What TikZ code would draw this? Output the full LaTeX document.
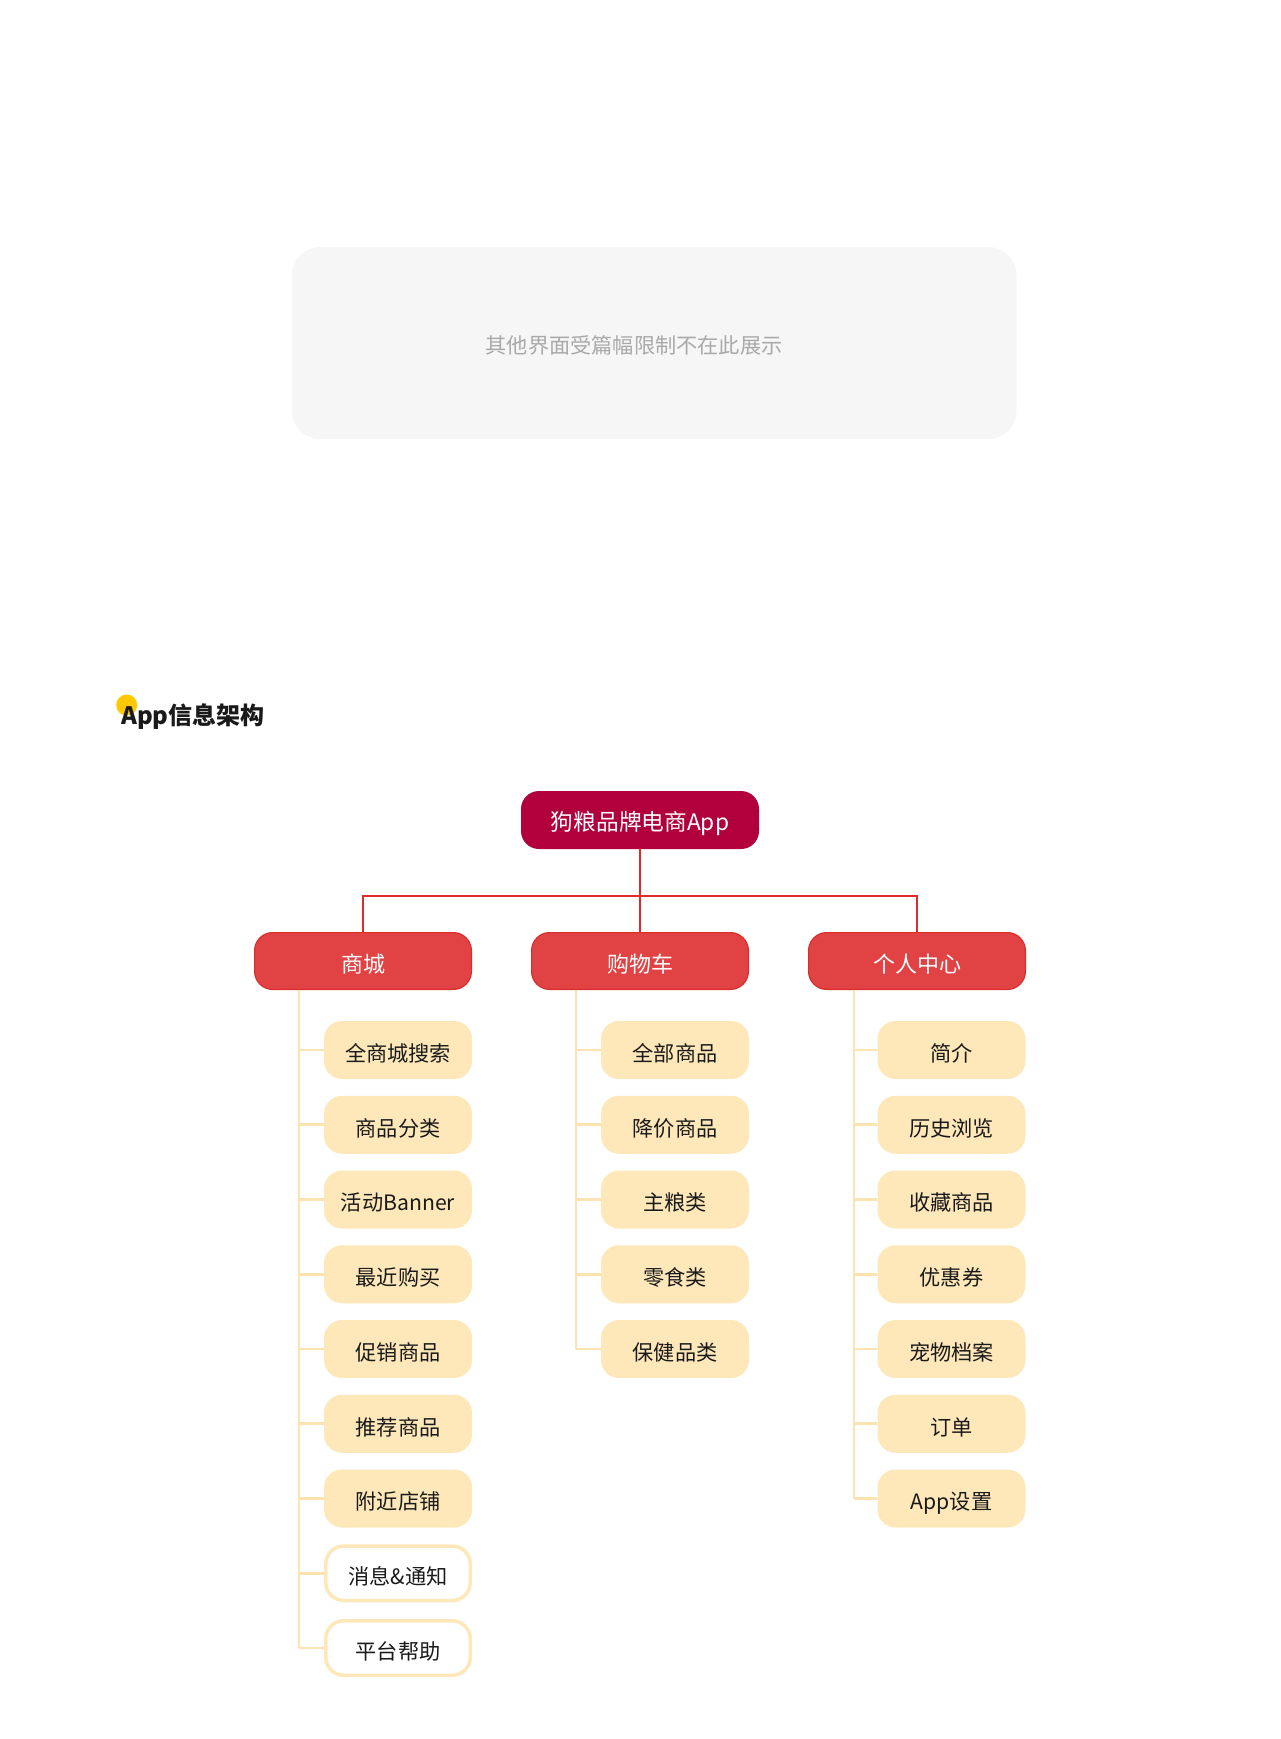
\documentclass[tikz,border=0pt]{standalone}
\usepackage{fontspec}
\setmainfont{Noto Sans CJK SC}
\definecolor{rootc}{HTML}{B2003D}
\definecolor{catc}{HTML}{E14244}
\definecolor{catb}{HTML}{DC2D2D}
\definecolor{redl}{HTML}{E02B2B}
\definecolor{itemc}{HTML}{FEE8B9}
\definecolor{trunkc}{HTML}{FDE3B0}
\definecolor{grayc}{HTML}{F6F6F6}
\definecolor{graytxt}{HTML}{A9A9A9}
\definecolor{txtc}{HTML}{1A1A1A}
\definecolor{dotc}{HTML}{FFC800}
\tikzset{
  rootbox/.style={fill=rootc, rounded corners=18pt, minimum width=238pt, minimum height=58pt, inner sep=0pt, text height=20.5pt, text depth=0pt, text=white, font=\fontsize{22.7}{26}\selectfont},
  catbox/.style={fill=catc, draw=catb, line width=1.2pt, rounded corners=18pt, minimum width=216.8pt, minimum height=56.8pt, inner sep=0pt, text height=23.5pt, text depth=0pt, text=white, font=\fontsize{22}{26}\selectfont},
  itembox/.style={fill=itemc, rounded corners=18pt, minimum width=148pt, minimum height=58pt, inner sep=0pt, text height=22.9pt, text depth=0pt, text=txtc, font=\fontsize{21.2}{24}\selectfont},
  itemwbox/.style={itembox, fill=white, draw=itemc, line width=3.5pt, minimum width=144.5pt, minimum height=54.5pt},
  redline/.style={draw=redl, line width=2.6pt},
  trunkline/.style={draw=trunkc, line width=2.6pt},
  graybox/.style={fill=grayc, rounded corners=28pt, minimum width=724.5pt, minimum height=192pt, inner sep=0pt}
}
\begin{document}
\begin{tikzpicture}[x=1pt,y=-1pt]
\useasboundingbox[fill=white] (0,0) rectangle (1280,1739);
% top placeholder panel
\node[graybox] (panel) at (654.25,343) {};
\node[text=graytxt, font=\fontsize{21.2}{26}\selectfont, inner sep=0pt] (paneltxt) at (634,345) {其他界面受篇幅限制不在此展示};
% title
\fill[dotc] (126.7,705) circle (10.5pt);
\node[anchor=west, inner sep=0pt, text=txtc, font=\fontsize{24}{28}\selectfont\bfseries] (title) at (121,717) {App信息架构};
% root and categories
\node[rootbox] (root) at (640,820) {狗粮品牌电商App};
\node[catbox] (c1) at (363,961) {商城};
\node[catbox] (c2) at (640,961) {购物车};
\node[catbox] (c3) at (917,961) {个人中心};
\coordinate (bar) at (640,896);
\draw[redline] (root.south) -- (c2.north);
\draw[redline] (c1.north) -- (c1.north |- bar) -- (c3.north |- bar) -- (c3.north);
% column 1
\node[itembox] (a1) at (398,1050) {全商城搜索};
\node[itembox] (a2) at (398,1124.75) {商品分类};
\node[itembox] (a3) at (398,1199.5) {活动Banner};
\node[itembox] (a4) at (398,1274.25) {最近购买};
\node[itembox] (a5) at (398,1349) {促销商品};
\node[itembox] (a6) at (398,1423.75) {推荐商品};
\node[itembox] (a7) at (398,1498.5) {附近店铺};
\node[itemwbox] (a8) at (398,1573.25) {消息\&通知};
\node[itemwbox] (a9) at (398,1648) {平台帮助};
% column 2
\node[itembox] (b1) at (675,1050) {全部商品};
\node[itembox] (b2) at (675,1124.75) {降价商品};
\node[itembox] (b3) at (675,1199.5) {主粮类};
\node[itembox] (b4) at (675,1274.25) {零食类};
\node[itembox] (b5) at (675,1349) {保健品类};
% column 3
\node[itembox] (d1) at (951.5,1050) {简介};
\node[itembox] (d2) at (951.5,1124.75) {历史浏览};
\node[itembox] (d3) at (951.5,1199.5) {收藏商品};
\node[itembox] (d4) at (951.5,1274.25) {优惠券};
\node[itembox] (d5) at (951.5,1349) {宠物档案};
\node[itembox] (d6) at (951.5,1423.75) {订单};
\node[itembox] (d7) at (951.5,1498.5) {App设置};
% trunks
\coordinate (k1) at (299,990);
\coordinate (k2) at (576,990);
\coordinate (k3) at (854,990);
\draw[trunkline] (k1) -- (k1 |- a9.west);
\foreach \n in {a1,a2,a3,a4,a5,a6,a7,a8,a9} \draw[trunkline] (k1 |- \n.west) -- (\n.west);
\draw[trunkline] (k2) -- (k2 |- b5.west);
\foreach \n in {b1,b2,b3,b4,b5} \draw[trunkline] (k2 |- \n.west) -- (\n.west);
\draw[trunkline] (k3) -- (k3 |- d7.west);
\foreach \n in {d1,d2,d3,d4,d5,d6,d7} \draw[trunkline] (k3 |- \n.west) -- (\n.west);
\end{tikzpicture}
\end{document}
